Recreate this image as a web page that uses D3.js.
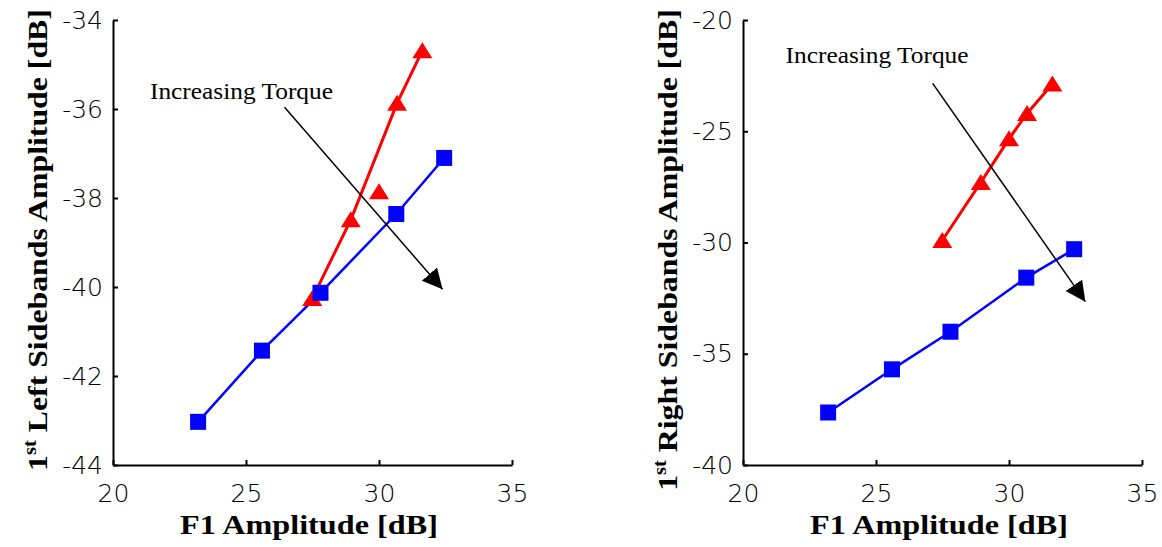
<!DOCTYPE html>
<html>
<head>
<meta charset="utf-8">
<script src="https://cdn.jsdelivr.net/npm/d3@7"></script>
<style>
  html, body { margin: 0; padding: 0; background: #fff; }
  svg { display: block; }
</style>
</head>
<body>
<svg id="chart" width="1162" height="547"></svg>
<script>
// ---------- data ----------
const f1Blue = [23.2, 25.6, 27.8, 30.65, 32.45];
const f1Red  = [27.49, 28.94, 30.0, 30.68, 31.63];

const leftBlue  = [-43.03, -41.43, -40.13, -38.36, -37.10];
const leftRed   = [-40.26, -38.49, -37.86, -35.87, -34.69];
const leftRedOffLine = [2];          // marker drawn but not joined by the line

const rightBlue = [-37.64, -35.70, -34.01, -31.58, -30.30];
const rightRed  = [-29.91, -27.30, -25.34, -24.20, -22.88];
const rightRedOffLine = [];

const xTicks      = [20, 25, 30, 35];
const leftYTicks  = [-44, -42, -40, -38, -36, -34];
const rightYTicks = [-40, -35, -30, -25, -20];

const leftYLabel  = ["1", "st", " Left Sidebands Amplitude [dB]"];
const rightYLabel = ["1", "st", " Right Sidebands Amplitude [dB]"];
const xLabel = "F1 Amplitude [dB]";
const annotText = "Increasing Torque";
// annotation: [text x, text y, arrow start x, y, arrow tip x, y] in data units
const leftAnnot  = [21.39, -35.78, 26.45, -35.96, 32.39, -40.05];
const rightAnnot = [21.60, -21.92, 27.13, -22.85, 32.87, -32.66];

// ---------- drawing ----------
const svg = d3.select("#chart");
const defs = svg.append("defs");
defs.append("marker")
  .attr("id", "arrowhead")
  .attr("viewBox", "0 0 20 20")
  .attr("refX", 20).attr("refY", 10)
  .attr("markerWidth", 20).attr("markerHeight", 20)
  .attr("markerUnits", "userSpaceOnUse")
  .attr("orient", "auto")
  .append("path").attr("d", "M0,0 L20,10 L0,20 Z").attr("fill", "#000");

function panel(cfg) {
  const x = d3.scaleLinear().domain([20, 35]).range([cfg.left, cfg.left + 399]);
  const y = d3.scaleLinear().domain(cfg.yDomain).range([465, 20]);
  const g = svg.append("g");

  const yAxis = g.append("g").attr("transform", `translate(${cfg.left},0)`)
    .call(d3.axisLeft(y).tickValues(cfg.yTicks).tickSizeInner(-5).tickSizeOuter(0).tickPadding(10)
      .tickFormat(d3.format("d")));
  const xAxis = g.append("g").attr("transform", `translate(0,465)`)
    .call(d3.axisBottom(x).tickValues(xTicks).tickSizeInner(-5).tickSizeOuter(0).tickPadding(19)
      .tickFormat(d3.format("d")));
  [xAxis, yAxis].forEach(a => {
    a.select(".domain").attr("stroke", "#000").attr("stroke-width", 2);
    a.selectAll(".tick line").attr("stroke", "#000").attr("stroke-width", 2);
    a.selectAll("text").attr("font-family", "DejaVu Sans").attr("font-weight", 200)
      .attr("font-size", 25).attr("fill", "#000");
  });
  yAxis.selectAll("text").text(d => d < 0 ? "-" + Math.abs(d) : d);

  // lines
  const line = d3.line().x(d => x(d[0])).y(d => y(d[1]));
  const redPts = f1Red.map((v, i) => [v, cfg.red[i], i]).filter(d => !cfg.redOff.includes(d[2]));
  const bluePts = f1Blue.map((v, i) => [v, cfg.blue[i]]);
  g.append("path").datum(redPts).attr("d", line)
    .attr("fill", "none").attr("stroke", "#ff0000").attr("stroke-width", 3);
  g.append("path").datum(bluePts).attr("d", line)
    .attr("fill", "none").attr("stroke", "#0000ff").attr("stroke-width", 2.5);

  // markers
  const tri = "M0,-8.5 L10,7.5 L-10,7.5 Z";
  g.selectAll(".tri").data(f1Red.map((v, i) => [v, cfg.red[i]])).enter()
    .append("path").attr("d", tri)
    .attr("transform", d => `translate(${x(d[0])},${y(d[1])})`)
    .attr("fill", "#ff0000");
  g.selectAll(".sq").data(bluePts).enter()
    .append("rect").attr("width", 16).attr("height", 16)
    .attr("x", d => x(d[0]) - 8).attr("y", d => y(d[1]) - 8)
    .attr("fill", "#0000ff");

  // annotation
  const a = cfg.annot;
  g.append("line")
    .attr("x1", x(a[2])).attr("y1", y(a[3])).attr("x2", x(a[4])).attr("y2", y(a[5]))
    .attr("stroke", "#000").attr("stroke-width", 1.5).attr("marker-end", "url(#arrowhead)");
  g.append("text").attr("x", x(a[0])).attr("y", y(a[1]))
    .attr("font-family", "Liberation Serif").attr("font-size", 24)
    .attr("textLength", 183).attr("lengthAdjust", "spacingAndGlyphs")
    .text(annotText);

  // x label
  const xl = g.append("text")
    .attr("font-family", "Liberation Serif").attr("font-weight", "bold").attr("font-size", 28)
    .attr("text-anchor", "middle").text(xLabel);
  const xw = xl.node().getComputedTextLength();
  xl.attr("transform", `translate(${cfg.left + 196},534) scale(${258 / xw},1)`);

  // y label
  const yl = g.append("text")
    .attr("font-family", "Liberation Serif").attr("font-weight", "bold").attr("font-size", 28)
    .attr("text-anchor", "middle");
  yl.append("tspan").text(cfg.ylab[0]);
  yl.append("tspan").attr("font-size", 18).attr("dy", -11).text(cfg.ylab[1]);
  yl.append("tspan").attr("dy", 11).text(cfg.ylab[2]);
  const yw = yl.node().getComputedTextLength();
  yl.attr("transform", `translate(${cfg.left - 66},${cfg.ylabCenter}) rotate(-90) scale(${cfg.ylabLen / yw},1)`);
}

panel({ left: 113, yDomain: [-44, -34], yTicks: leftYTicks, blue: leftBlue, red: leftRed,
        redOff: leftRedOffLine, annot: leftAnnot, ylab: leftYLabel, ylabCenter: 240, ylabLen: 462 });
panel({ left: 743, yDomain: [-40, -20], yTicks: rightYTicks, blue: rightBlue, red: rightRed,
        redOff: rightRedOffLine, annot: rightAnnot, ylab: rightYLabel, ylabCenter: 250, ylabLen: 482 });
</script>
</body>
</html>
